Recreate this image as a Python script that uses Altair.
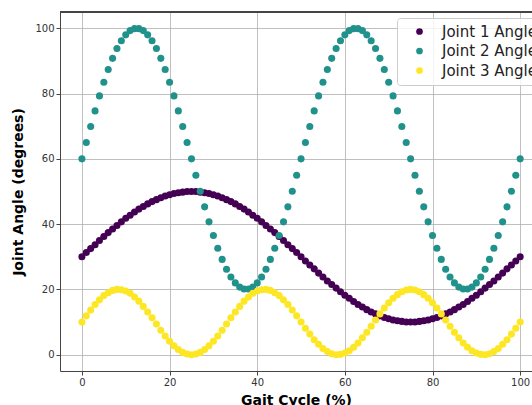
import altair as alt
import pandas as pd

gait = list(range(0, 101))

joint1 = [30.0, 31.3, 32.5, 33.7, 35.0, 36.2, 37.4, 38.5, 39.6, 40.7,
          41.8, 42.7, 43.7, 44.6, 45.4, 46.2, 46.9, 47.5, 48.1, 48.6,
          49.0, 49.4, 49.6, 49.8, 50.0, 50.0, 50.0, 49.8, 49.6, 49.4,
          49.0, 48.6, 48.1, 47.5, 46.9, 46.2, 45.4, 44.6, 43.7, 42.7,
          41.8, 40.7, 39.6, 38.5, 37.4, 36.2, 35.0, 33.7, 32.5, 31.3,
          30.0, 28.7, 27.5, 26.3, 25.0, 23.8, 22.6, 21.5, 20.4, 19.3,
          18.2, 17.3, 16.3, 15.4, 14.6, 13.8, 13.1, 12.5, 11.9, 11.4,
          11.0, 10.6, 10.4, 10.2, 10.0, 10.0, 10.0, 10.2, 10.4, 10.6,
          11.0, 11.4, 11.9, 12.5, 13.1, 13.8, 14.6, 15.4, 16.3, 17.3,
          18.2, 19.3, 20.4, 21.5, 22.6, 23.8, 25.0, 26.3, 27.5, 28.7,
          30.0]

joint2 = [60.0, 65.0, 69.9, 74.7, 79.3, 83.5, 87.4, 90.8, 93.8, 96.2,
          98.0, 99.3, 99.9, 99.9, 99.3, 98.0, 96.2, 93.8, 90.8, 87.4,
          83.5, 79.3, 74.7, 69.9, 65.0, 60.0, 55.0, 50.1, 45.3, 40.7,
          36.5, 32.6, 29.2, 26.2, 23.8, 22.0, 20.7, 20.1, 20.1, 20.7,
          22.0, 23.8, 26.2, 29.2, 32.6, 36.5, 40.7, 45.3, 50.1, 55.0,
          60.0, 65.0, 69.9, 74.7, 79.3, 83.5, 87.4, 90.8, 93.8, 96.2,
          98.0, 99.3, 99.9, 99.9, 99.3, 98.0, 96.2, 93.8, 90.8, 87.4,
          83.5, 79.3, 74.7, 69.9, 65.0, 60.0, 55.0, 50.1, 45.3, 40.7,
          36.5, 32.6, 29.2, 26.2, 23.8, 22.0, 20.7, 20.1, 20.1, 20.7,
          22.0, 23.8, 26.2, 29.2, 32.6, 36.5, 40.7, 45.3, 50.1, 55.0,
          60.0]

joint3 = [10.0, 11.9, 13.7, 15.4, 16.8, 18.1, 19.0, 19.7, 20.0, 19.9,
          19.5, 18.8, 17.7, 16.4, 14.8, 13.1, 11.3, 9.4, 7.5, 5.7,
          4.1, 2.7, 1.6, 0.7, 0.2, 0.0, 0.2, 0.7, 1.6, 2.7,
          4.1, 5.7, 7.5, 9.4, 11.3, 13.1, 14.8, 16.4, 17.7, 18.8,
          19.5, 19.9, 20.0, 19.7, 19.0, 18.1, 16.8, 15.4, 13.7, 11.9,
          10.0, 8.1, 6.3, 4.6, 3.2, 1.9, 1.0, 0.3, 0.0, 0.1,
          0.5, 1.2, 2.3, 3.6, 5.2, 6.9, 8.7, 10.6, 12.5, 14.3,
          15.9, 17.3, 18.4, 19.3, 19.8, 20.0, 19.8, 19.3, 18.4, 17.3,
          15.9, 14.3, 12.5, 10.6, 8.7, 6.9, 5.2, 3.6, 2.3, 1.2,
          0.5, 0.1, 0.0, 0.3, 1.0, 1.9, 3.2, 4.6, 6.3, 8.1,
          10.0]

series_names = ["Joint 1 Angle", "Joint 2 Angle", "Joint 3 Angle"]
series_colors = ["#440154", "#21918c", "#fde725"]

rows = []
for k, (name, vals) in enumerate(zip(series_names, [joint1, joint2, joint3])):
    for g, v in zip(gait, vals):
        rows.append({"gait": g, "angle": v, "series": name, "ord": k})
df = pd.DataFrame(rows)

pts = alt.Chart(df).mark_circle(size=50, opacity=1).encode(
    x=alt.X("gait:Q", title="Gait Cycle (%)",
            scale=alt.Scale(domain=[-5, 102.7], nice=False, zero=False),
            axis=alt.Axis(values=[0, 20, 40, 60, 80, 100], titlePadding=6)),
    y=alt.Y("angle:Q", title="Joint Angle (degrees)",
            scale=alt.Scale(domain=[-5, 105], nice=False, zero=False),
            axis=alt.Axis(values=[0, 20, 40, 60, 80, 100], titlePadding=9)),
    color=alt.Color("series:N", title=None,
                    scale=alt.Scale(domain=series_names, range=series_colors),
                    legend=alt.Legend(orient="none", legendX=337, legendY=6,
                                      padding=6, symbolOffset=9, labelOffset=15,
                                      symbolSize=45, symbolType="circle",
                                      labelFontSize=15, labelFont="DejaVu Sans",
                                      labelColor="#222222", rowPadding=3.5,
                                      fillColor="rgba(255,255,255,0.8)",
                                      strokeColor="#cccccc", cornerRadius=3)),
    order=alt.Order("ord:Q"),
)

top_spine = alt.Chart(df).mark_rule(color="#444444", strokeWidth=1).encode(
    x=alt.value(0), x2=alt.value(472), y=alt.value(0)
)

chart = alt.layer(pts, top_spine).properties(
    width=472, height=359,
    autosize=alt.AutoSizeParams(type="none"),
    padding={"left": 60, "top": 12, "right": 0, "bottom": 34},
).configure_view(stroke=None).configure_axis(
    grid=True, gridColor="#b0b0b0", gridWidth=0.8,
    domainColor="#444444", domainWidth=1,
    tickColor="#444444", tickSize=4,
    labelFont="DejaVu Sans", labelFontSize=10, labelColor="#333333",
    titleFont="DejaVu Sans", titleFontSize=14, titleFontWeight="bold",
    titleColor="#000000",
)

chart.save("out.html", embed_options={"renderer": "svg", "actions": False})
